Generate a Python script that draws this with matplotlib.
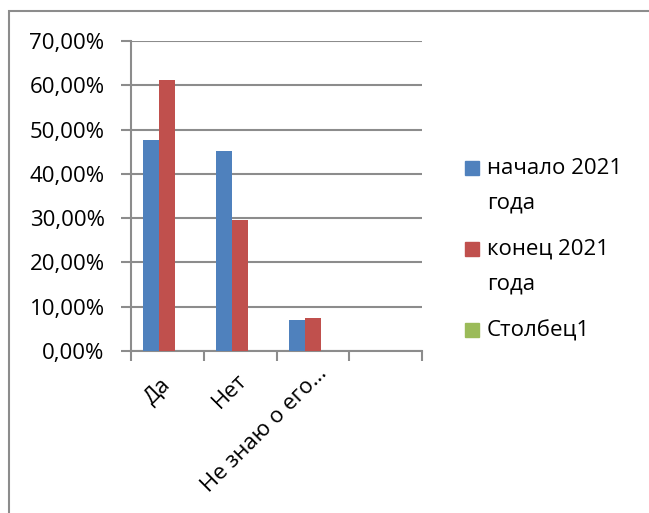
import numpy as np
import matplotlib.pyplot as plt
import matplotlib.transforms as mtransforms
from matplotlib.patches import Rectangle
from matplotlib.ticker import FuncFormatter, FixedLocator

plt.rcParams['font.family'] = ['Open Sans', 'DejaVu Sans']

categories = ['Да', 'Нет', 'Не знаю о его…', '']
series_names = ['начало 2021\nгода', 'конец 2021\nгода', 'Столбец1']
start_2021 = [0.476, 0.452, 0.071, np.nan]
end_2021 = [0.611, 0.296, 0.074, np.nan]
column1 = [np.nan, np.nan, np.nan, np.nan]
colors = ['#4F81BD', '#C0504D', '#9BBB59']

W, H = 649, 513
fig = plt.figure(figsize=(W / 100, H / 100), dpi=100)
ax = fig.add_axes([131 / W, 1 - 351 / H, 291 / W, 310 / H])

# excel style: gap width 150% -> bar width = 1/4.5 of a category
w = 1 / 4.5
x = np.arange(len(categories))
for i, vals in enumerate([start_2021, end_2021, column1]):
    ax.bar(x + (i - 1) * w, vals, width=w, color=colors[i], zorder=3)

grid_c = '#8c8c8c'
ax.set_xlim(-0.5, len(categories) - 0.5)
ax.set_ylim(0, 0.7)
ax.set_yticks(np.arange(0, 0.71, 0.1))
ax.yaxis.set_major_formatter(FuncFormatter(lambda v, p: f'{v * 100:.2f}%'.replace('.', ',')))
ax.grid(axis='y', color=grid_c, linewidth=1.5, zorder=0)

ax.xaxis.set_major_locator(FixedLocator(np.arange(-0.5, len(categories), 1.0)))
ax.xaxis.set_major_formatter(FuncFormatter(lambda v, p: ''))
ax.set_xticks(x, minor=True)
ax.set_xticklabels(categories, minor=True, rotation=45, ha='right',
                   rotation_mode='anchor', va='center', fontsize=16)
ax.tick_params(axis='x', which='minor', length=0, pad=22)
ax.tick_params(axis='x', which='major', length=7, width=1.5, color=grid_c, direction='out')
ax.tick_params(axis='y', length=7, width=1.5, color=grid_c, labelsize=16, pad=12)

# excel slides longer rotated labels a bit further along their direction
nudge = [0, 4, 11, 0]
for lbl, n in zip(ax.get_xticklabels(minor=True), nudge):
    lbl.set_transform(lbl.get_transform() +
                      mtransforms.ScaledTranslation(n / 100, n / 100, fig.dpi_scale_trans))

for s in ['top', 'right']:
    ax.spines[s].set_visible(False)
for s in ['left', 'bottom']:
    ax.spines[s].set_color(grid_c)
    ax.spines[s].set_linewidth(1.5)

# legend drawn by hand: square aligned to first text line
ly = 168
for name, c in zip(series_names, colors):
    fig.add_artist(Rectangle((465 / W, 1 - (ly + 7) / H), 14 / W, 14 / H,
                             transform=fig.transFigure, color=c))
    fig.text(487 / W, 1 - (ly - 10) / H, name, fontsize=16, va='top', linespacing=1.85)
    ly += name.count('\n') * 34 + 47

# chart area border (cut off at the right and bottom)
fig.add_artist(Rectangle((9 / W, -0.1), 1.2, 1 - 11 / H + 0.1,
                         transform=fig.transFigure, fill=False,
                         edgecolor='#8c8c8c', linewidth=1.5))

fig.savefig('out.png', dpi=100)
